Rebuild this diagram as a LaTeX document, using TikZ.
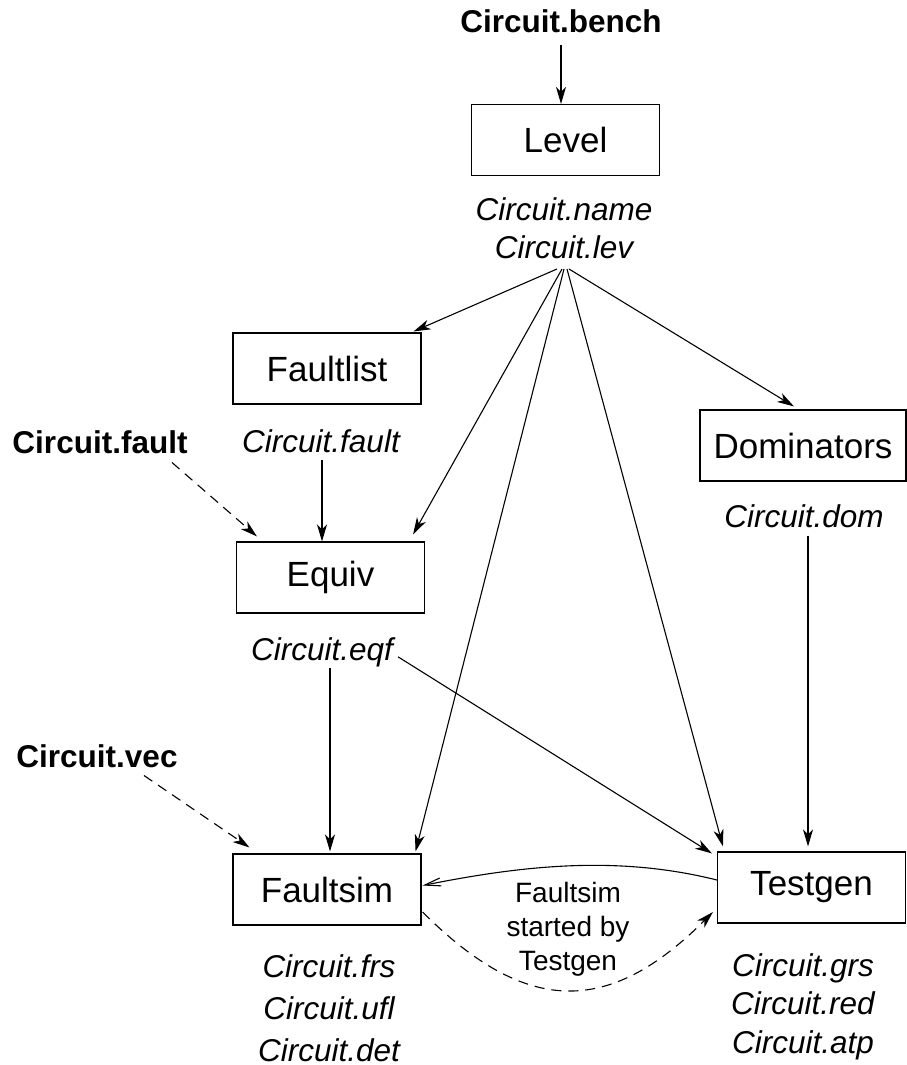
\documentclass[tikz,border=0pt]{standalone}
\usepackage{fontspec}
\setmainfont{Liberation Sans}
\usepackage{tikz}
\usetikzlibrary{arrows.meta, positioning, calc}

\begin{document}
\begin{tikzpicture}[
  x=1pt, y=-1pt,
  prog/.style    = {draw, line width=1.1pt, minimum width=188pt,
                    minimum height=71pt, inner sep=0pt,
                    font=\fontsize{35}{42}\selectfont},
  infile/.style  = {inner sep=4pt, font=\bfseries\fontsize{31.5}{38}\selectfont},
  outfile/.style = {inner sep=2pt, align=center,
                    font=\itshape\fontsize{31.5}{38}\selectfont},
  note/.style    = {inner sep=0pt, align=center,
                    font=\fontsize{28}{34}\selectfont},
  arr/.style     = {-{Stealth[length=17pt, width=10pt, inset=5pt]},
                    line width=1.1pt},
  darr/.style    = {arr, dash pattern=on 10pt off 7pt},
  barb/.style    = {-{Straight Barb[length=16pt, width=8pt]}, line width=1.1pt},
]
\useasboundingbox (0,0) rectangle (907,1065);

%% Level
\node[infile, anchor=base] (bench) at (561, 33) {Circuit.bench};
\node[prog] (level) at (565.5, 140) {Level};
\node[outfile, anchor=base] (lev) at (564, 258) {Circuit.name\\Circuit.lev};
\draw[arr] ($(bench.south)+(0,7)$) -- (bench.south |- level.north);
\coordinate (hub) at (564, 269);

%% Faultlist and Dominators
\node[prog] (faultlist) at (327, 368.5) {Faultlist};
\node[outfile, anchor=base] (fltout) at (321, 452) {Circuit.fault};
\node[prog, minimum width=206pt] (dominators) at (803, 445.5) {Dominators};
\node[outfile, anchor=base] (dom) at (804, 527) {Circuit.dom};

\draw[arr] ($(hub)+(-7,0)$) -- ($(faultlist.north east)+(-8,-1)$);
\draw[arr] ($(hub)+(5,0)$)  -- ($(dominators.north)+(-9,-3)$);

%% Equiv
\node[infile, anchor=base] (fltin) at (100, 453) {Circuit.fault};
\node[prog] (equiv) at (330.5, 577.5) {Equiv};
\node[outfile, anchor=base] (eqf) at (322, 660) {Circuit.eqf};

\draw[arr]  ($(fltout.south)+(1,5)$) -- ($(fltout.south |- equiv.north)+(1,0)$);
\draw[darr] ($(fltin.south)+(72,5)$) -- ($(equiv.north west)+(21,-5)$);
\draw[arr]  ($(hub)+(-2,0)$) -- ($(equiv.north east)+(-12,-7)$);

%% Faultsim and Testgen
\node[infile, anchor=base] (vec) at (97, 767) {Circuit.vec};
\node[prog] (faultsim) at (327, 889.5) {Faultsim};
\node[prog] (testgen) at (811.5, 887.5) {Testgen};
\node[outfile, anchor=base, font=\itshape\fontsize{31.5}{42}\selectfont]
     (fsout) at (329, 1061) {Circuit.frs\\Circuit.ufl\\Circuit.det};
\node[outfile, anchor=base, font=\itshape\fontsize{31.5}{38.5}\selectfont]
     (tgout) at (803, 1053) {Circuit.grs\\Circuit.red\\Circuit.atp};

\draw[arr]  ($(hub)+(0,0)$) -- ($(faultsim.north east)+(-6,-2)$);
\draw[arr]  ($(hub)+(3,0)$) -- ($(testgen.north west)+(6,-5)$);
\draw[arr]  ($(eqf.south)+(8,-1)$) -- ($(eqf.south |- faultsim.north)+(8,-2)$);
\draw[arr]  ($(eqf.east)+(3,5)$) -- ($(testgen.north west)+(-5,2)$);
\draw[darr] ($(vec.south)+(47,4)$) -- ($(faultsim.north west)+(17,-6)$);
\draw[arr]  ($(dom.south)+(4,6)$) -- ($(dom.south |- testgen.north)+(4,-5)$);

%% Faultsim called from Testgen
\draw[barb] ($(testgen.west)+(0,-7.5)$)
     .. controls +(-100,-25) and +(100,-20) .. ($(faultsim.east)+(1,-4)$);
\draw[darr] ($(faultsim.east)+(1,22.5)$)
     .. controls +(104,104) and +(-104,104) .. ($(testgen.west)+(-4,24.5)$);
\node[note, anchor=base] (started) at (568, 970) {Faultsim\\started by\\Testgen};

\end{tikzpicture}
\end{document}
